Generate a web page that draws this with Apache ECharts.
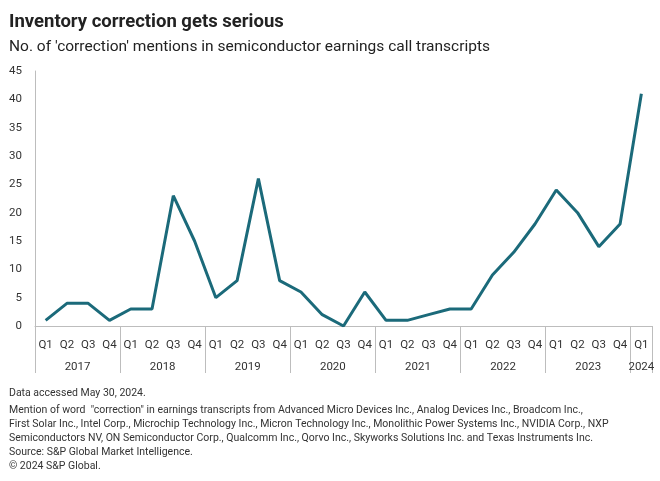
<!DOCTYPE html>
<html>
<head>
<meta charset="utf-8">
<script src="https://cdn.jsdelivr.net/npm/echarts@6/dist/echarts.min.js"></script>
<style>
  html, body { margin: 0; padding: 0; background: #fff; }
  #chart { width: 660px; height: 481px; }
</style>
</head>
<body>
<div id="chart"></div>
<script>
var quarters = ['Q1','Q2','Q3','Q4','Q1','Q2','Q3','Q4','Q1','Q2','Q3','Q4','Q1','Q2','Q3','Q4',
  'Q1','Q2','Q3','Q4','Q1','Q2','Q3','Q4','Q1','Q2','Q3','Q4','Q1'];
var mentions = [1, 4, 4, 1, 3, 3, 23, 15, 5, 8, 26, 8, 6, 2, 0, 6,
  1, 1, 2, 3, 3, 9, 13, 18, 24, 20, 14, 18, 41];
var years = ['2017','2018','2019','2020','2021','2022','2023','2024'];
var yearEdges = [0, 4, 8, 12, 16, 20, 24, 28, 29];
var yearMids = [2, 6, 10, 14, 18, 22, 26, 28.5];

var notes = [
  'Mention of word  "correction" in earnings transcripts from Advanced Micro Devices Inc., Analog Devices Inc., Broadcom Inc.,',
  'First Solar Inc., Intel Corp., Microchip Technology Inc., Micron Technology Inc., Monolithic Power Systems Inc., NVIDIA Corp., NXP',
  'Semiconductors NV, ON Semiconductor Corp., Qualcomm Inc., Qorvo Inc., Skyworks Solutions Inc. and Texas Instruments Inc.'
];

var font = 'Roboto';
var gray = '#bdbdbd';
var txt = '#333';

var chart = echarts.init(document.getElementById('chart'));
chart.setOption({
  animation: false,
  textStyle: { fontFamily: font },
  title: [
    { text: 'Inventory correction gets serious', left: 4, top: 8,
      textStyle: { fontSize: 18.5, fontWeight: 'bold', color: '#222', fontFamily: font } },
    { text: "No. of 'correction' mentions in semiconductor earnings call transcripts", left: 4, top: 34,
      textStyle: { fontSize: 15.5, fontWeight: 'normal', color: '#222', fontFamily: font } },
    { text: 'Data accessed May 30, 2024.', left: 4, top: 383,
      textStyle: { fontSize: 10.5, fontWeight: 'normal', color: txt, fontFamily: font } },
    { text: notes.join('\n'), left: 4, top: 398,
      textStyle: { fontSize: 10.5, fontWeight: 'normal', color: txt, lineHeight: 14, fontFamily: font } },
    { text: 'Source: S&P Global Market Intelligence.', left: 4, top: 442,
      textStyle: { fontSize: 10.5, fontWeight: 'normal', color: txt, fontFamily: font } },
    { text: '\u00a9 2024 S&P Global.', left: 4, top: 456,
      textStyle: { fontSize: 10.5, fontWeight: 'normal', color: txt, fontFamily: font } }
  ],
  grid: { left: 35, right: 8, top: 71, bottom: 155, containLabel: false },
  xAxis: [
    {
      type: 'category',
      data: quarters,
      boundaryGap: true,
      axisLine: { show: true, lineStyle: { color: gray, width: 1 } },
      axisTick: { show: false },
      axisLabel: { color: txt, fontSize: 11.5, margin: 13, interval: 0 }
    },
    {
      type: 'value',
      position: 'bottom',
      min: 0,
      max: 29,
      axisLine: { show: false },
      splitLine: { show: false },
      axisTick: { show: true, customValues: yearEdges, length: 47, lineStyle: { color: gray, width: 1 } },
      axisLabel: {
        customValues: yearMids, color: txt, fontSize: 11.5, margin: 35,
        formatter: function (v) { return years[yearMids.indexOf(v)]; }
      }
    }
  ],
  yAxis: {
    type: 'value',
    min: 0,
    max: 45,
    interval: 5,
    axisLine: { show: true, lineStyle: { color: gray, width: 1 } },
    axisTick: { show: false },
    splitLine: { show: false },
    axisLabel: { color: txt, fontSize: 11.5, margin: 13 }
  },
  series: [{
    type: 'line',
    data: mentions,
    xAxisIndex: 0,
    symbol: 'none',
    lineStyle: { color: '#1b6a7a', width: 3 },
    itemStyle: { color: '#1b6a7a' }
  }]
});
</script>
</body>
</html>
